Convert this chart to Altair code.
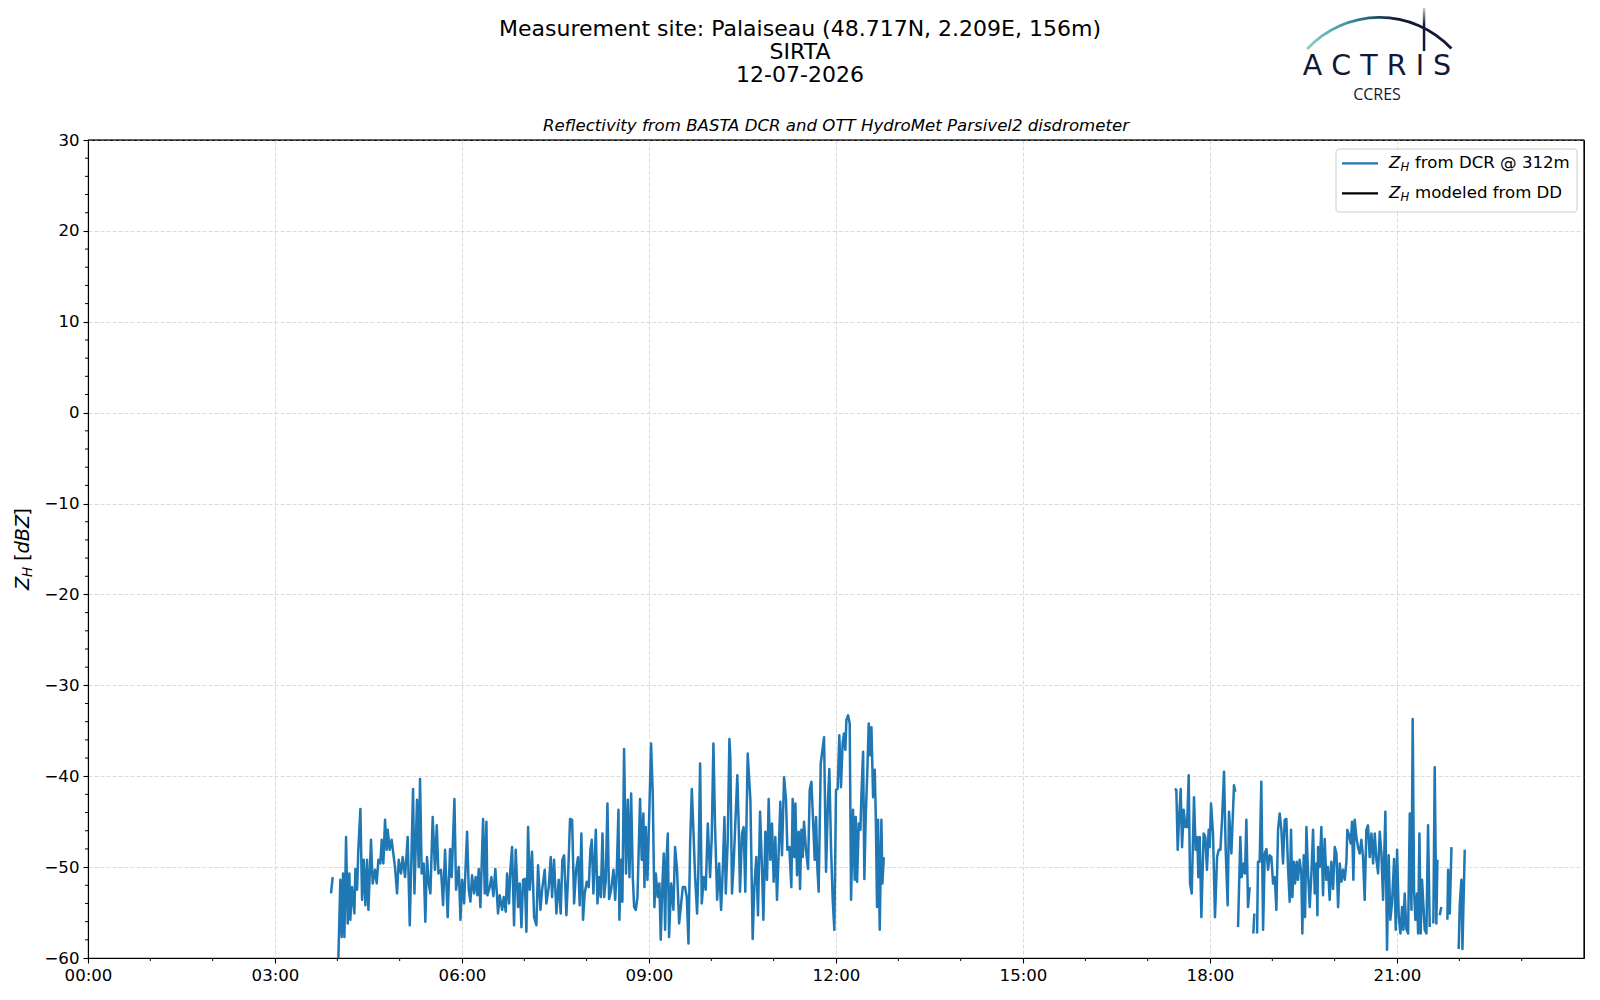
import altair as alt
import pandas as pd

# ---------------- data (minutes of day, dBZ); None marks a gap ----------------
MORNING_MIN = [
    233.9, 235.5, None,
    241.0, 242.9, 244.2, 245.5, 246.8, 248.4, 250.0, 251.6, 252.5, 254.2, 256.4, 257.4, 259.0, 260.2,
    262.2, 263.8, 265.4, 267.0, 268.6, 269.9, 272.4, 274.0, 276.3, 277.9, 279.5, 281.4, 282.7, 284.3,
    285.9, 287.5, 288.5, 290.4, 292.3, 295.5, 297.5, 299.1, 301.3, 302.9, 305.2, 307.7, 309.7, 312.9,
    314.2, 316.7, 318.3, 319.6, 321.2, 323.1, 324.7, 326.3, 328.0, 329.6, 331.8, 334.0, 335.7, 337.3,
    339.8, 341.8, 343.7, 346.2, 348.5, 350.1, 352.7, 354.3, 356.9, 358.5, 360.1, 362.0, 364.9, 366.5,
    368.1, 369.7, 371.6, 373.2, 374.8, 376.1, 377.7, 380.3, 381.9, 383.5, 384.4, 386.7, 388.3, 390.2,
    392.1, 394.7, 396.3, 398.6, 400.2, 402.1, 403.4, 405.3, 406.6, 408.2, 410.1, 411.7, 414.0, 415.6,
    417.2, 418.8, 420.4, 422.0, 423.6, 425.2, 427.4, 429.4, 431.6, 433.2, 435.5, 437.1, 439.6, 441.2,
    443.5, 445.4, 446.7, 448.6, 450.9, 453.1, 455.0, 456.6, 458.3, 460.5, 462.1, 464.0, 466.0, 467.9,
    469.8, 471.7, 473.3, 474.9, 476.5, 478.1, 480.1, 482.0, 483.6, 484.9, 486.5, 488.8, 490.4, 492.0,
    493.6, 495.2, 496.8, 498.4, 500.0, 501.6, 503.5, 505.8, 507.4, 509.0, 510.6, 511.5, 513.1, 514.4,
    516.0, 517.9, 519.6, 521.2, 522.8, 524.4, 525.7, 527.3, 528.9, 531.4, 533.0, 534.6, 535.6, 536.9,
    538.5, 540.1, 542.0, 543.6, 545.2, 546.5, 548.4, 550.0, 551.3, 552.9, 554.2, 555.5, 556.8, 558.1,
    559.3, 561.3, 563.5, 565.1, 567.0, 569.0, 570.6, 572.5, 574.7, 576.4, 578.0, 579.6, 581.2, 582.8,
    584.4, 586.3, 587.6, 589.2, 590.8, 592.7, 594.6, 596.6, 598.8, 600.4, 602.0, 603.6, 605.6, 607.5,
    609.4, 611.0, 612.6, 613.9, 615.8, 617.4, 618.3, 619.9, 621.5, 623.1, 625.0, 626.3, 627.6, 629.5,
    631.1, 632.7, 635.0, 637.6, 639.8, 641.4, 643.3, 644.9, 646.9, 648.8, 650.1, 652.0, 653.6, 655.2,
    656.8, 658.4, 660.0, 661.6, 663.2, 664.8, 666.4, 668.0, 670.0, 671.9, 673.2, 675.1, 677.0, 678.3,
    679.9, 680.9, 682.5, 684.1, 685.4, 686.7, 688.0, 689.2, 691.1, 693.1, 694.7, 696.3, 697.9, 699.5,
    700.8, 702.1, 703.3, 705.3, 708.5, 710.4, 712.3, 713.6, 715.2, 716.8, 718.4, 720.0, 721.6, 723.2,
    724.8, 726.4, 727.7, 729.0, 730.0, 731.6, 733.2, 734.5, 736.4, 738.0, 739.0, 740.3, 741.9, 743.5,
    744.5, 746.1, 747.3, 748.6, 750.2, 751.5, 753.1, 754.1, 755.7, 757.3, 758.3, 759.5, 760.5, 762.1,
    763.7, 764.7, 766.0,
]
MORNING_DBZ = [
    -52.9, -51.1, None,
    -60.0, -51.4, -57.7, -50.7, -57.7, -46.7, -56.2, -50.7, -55.8, -52.2, -55.1, -50.2, -52.5, -48.1,
    -43.6, -53.6, -49.2, -54.2, -49.2, -54.7, -47.0, -51.8, -50.3, -51.8, -49.2, -49.6, -47.0, -49.6,
    -44.8, -48.1, -45.9, -48.1, -47.0, -50.0, -52.9, -49.2, -50.7, -48.9, -51.1, -46.7, -56.4, -41.4,
    -52.9, -42.6, -50.0, -40.3, -50.7, -49.6, -56.0, -48.9, -51.8, -52.9, -44.5, -50.3, -45.4, -50.7,
    -50.3, -54.2, -48.1, -55.5, -48.0, -51.1, -42.5, -52.5, -50.0, -55.8, -51.4, -54.0, -46.1, -52.5,
    -53.8, -50.9, -52.9, -51.1, -53.1, -50.2, -54.4, -44.7, -52.9, -45.0, -53.1, -52.2, -51.1, -53.2,
    -50.2, -55.1, -53.1, -54.7, -53.3, -54.9, -50.7, -54.0, -50.2, -47.8, -56.4, -48.1, -54.4, -51.8,
    -56.6, -51.4, -51.3, -57.1, -45.6, -52.5, -48.3, -55.5, -56.4, -49.8, -54.7, -52.5, -50.3, -54.0,
    -52.2, -48.9, -53.3, -49.2, -55.1, -51.4, -55.1, -49.2, -48.7, -55.3, -51.1, -44.7, -44.8, -54.0,
    -50.3, -48.9, -54.2, -46.3, -55.8, -52.9, -51.6, -52.2, -48.1, -47.0, -52.9, -45.9, -54.0, -51.1,
    -53.3, -46.3, -53.3, -51.4, -43.0, -53.5, -52.5, -50.3, -53.6, -50.3, -43.7, -55.8, -49.2, -53.8,
    -37.0, -50.7, -42.6, -51.1, -41.9, -51.1, -54.4, -54.7, -53.3, -42.5, -49.2, -44.1, -52.2, -45.6,
    -51.4, -44.8, -36.4, -41.9, -54.4, -50.7, -53.3, -51.8, -58.0, -51.8, -48.5, -56.9, -49.2, -46.3,
    -57.7, -51.8, -54.7, -47.8, -50.3, -56.2, -54.4, -52.2, -52.2, -53.3, -58.4, -47.4, -41.4, -46.1,
    -51.1, -55.1, -50.0, -38.6, -54.0, -51.1, -52.5, -45.2, -51.1, -46.7, -36.4, -45.6, -53.6, -49.6,
    -54.7, -50.3, -44.5, -52.9, -47.0, -35.9, -37.9, -52.9, -49.6, -45.2, -39.9, -45.2, -52.7, -46.3,
    -45.6, -52.7, -37.5, -42.6, -57.9, -52.2, -48.9, -55.3, -43.9, -50.3, -55.8, -46.1, -51.4, -42.5,
    -49.2, -45.2, -51.6, -46.7, -53.6, -48.5, -42.8, -48.7, -40.1, -42.6, -48.1, -47.8, -52.2, -42.5,
    -48.9, -43.0, -50.9, -46.1, -52.4, -45.9, -48.9, -45.0, -48.1, -50.2, -41.5, -40.6, -44.8, -49.2,
    -44.5, -50.2, -52.7, -38.6, -35.7, -50.5, -42.6, -39.2, -47.8, -53.5, -56.9, -41.5, -41.4, -35.5,
    -41.2, -36.4, -35.3, -37.1, -33.8, -33.3, -34.2, -53.6, -43.7, -51.4, -44.5, -51.6, -45.2, -45.9,
    -41.9, -37.3, -51.3, -44.5, -39.3, -34.2, -37.7, -34.6, -42.3, -39.3, -44.5, -54.4, -44.8, -56.9,
    -44.8, -51.8, -48.9,
]
EVENING_MIN = [
    1046.0, 1047.6, 1048.9, 1050.2, 1051.8, 1053.1, 1054.7, 1056.3, 1057.9, 1059.5, 1060.8, 1062.4,
    1064.6, 1066.2, 1067.8, 1068.8, 1070.1, 1071.7, 1073.9, 1075.5, 1077.1, 1078.7, 1079.7, 1081.0,
    1082.9, 1084.8, 1086.8, 1088.4, 1090.0, 1091.6, 1093.5, 1095.1, 1097.0, 1098.3, 1100.6, 1103.1,
    1104.4, None,
    1107.0, 1109.2, 1110.5, 1112.4, 1113.7, 1115.0, 1116.6, 1118.2, None,
    1121.7, 1122.7, None,
    1125.3, 1126.2, 1127.8, 1129.4, 1131.1, 1132.7, 1134.3, 1135.9, 1137.5, 1139.1, 1140.7, 1142.3,
    1143.9, 1145.5, 1147.1, 1148.7, 1150.3, 1151.9, 1153.5, 1155.1, 1156.7, 1158.0, 1159.3, 1160.6,
    1161.9, 1163.5, 1164.7, 1166.3, 1167.9, 1168.9, 1170.2, 1171.5, 1172.8, 1174.4, 1176.0, 1177.6,
    1179.2, 1180.8, 1182.4, 1183.4, 1184.0, 1185.6, 1187.2, 1188.8, 1190.4, 1192.0, 1193.6, 1195.2,
    1196.8, 1198.5, 1200.1, 1201.7, 1203.3, 1204.9, 1206.5, 1208.1, 1209.7, 1211.3, 1212.2, 1213.9,
    1215.5, 1216.7, 1218.0, 1219.3, 1220.9, 1222.5, 1224.1, 1225.7, 1227.3, 1228.9, 1230.5, 1232.1,
    1233.7, 1235.4, 1237.0, 1238.6, 1240.2, 1241.8, 1243.4, 1245.0, 1246.6, 1248.8, 1250.4, 1252.0,
    1253.6, 1255.2, 1257.2, 1258.8, 1260.1, 1261.7, 1263.3, 1264.9, 1266.2, 1267.4, 1269.0, 1270.7,
    1272.3, 1273.9, 1275.1, 1276.4, 1277.7, 1279.3, 1280.3, 1281.6, 1282.8, 1284.1, 1286.7, 1288.3,
    1289.9, 1291.5, None,
    1295.0, 1296.3, 1297.9, 1298.9, None,
    1301.1, 1302.7, None,
    1308.5, 1309.2, 1310.8, 1312.4, None,
    1319.4, 1320.4, 1322.0, 1323.0, 1325.2,
]
EVENING_DBZ = [
    -41.4, -41.5, -48.1, -44.8, -41.4, -47.8, -43.7, -45.6, -45.6, -39.9, -51.8, -52.9,
    -42.3, -48.1, -46.7, -51.1, -46.7, -55.5, -46.3, -46.7, -50.3, -45.9, -47.8, -43.0,
    -46.3, -55.5, -48.9, -48.1, -48.1, -44.8, -39.5, -48.1, -54.2, -43.9, -48.5, -41.0,
    -41.7, None,
    -56.6, -46.7, -51.1, -49.6, -50.7, -44.8, -54.4, -52.2, None,
    -57.3, -55.1, None,
    -57.3, -49.4, -49.4, -40.6, -56.9, -48.5, -48.0, -50.3, -48.7, -48.9, -51.8, -51.1,
    -54.7, -45.9, -44.1, -45.9, -49.6, -44.8, -44.7, -50.0, -53.8, -45.9, -53.3, -49.4,
    -51.8, -49.4, -51.4, -49.2, -50.7, -57.3, -48.7, -55.5, -45.6, -50.7, -54.4, -50.7,
    -45.9, -52.9, -49.6, -55.3, -47.8, -50.0, -45.6, -53.1, -46.9, -51.4, -50.0, -53.6,
    -49.4, -52.4, -47.8, -48.5, -54.4, -49.6, -51.6, -50.3, -51.4, -49.4, -45.9, -46.5,
    -47.4, -45.0, -51.4, -44.8, -46.7, -47.8, -48.5, -47.0, -48.9, -53.6, -45.9, -45.4,
    -48.9, -46.3, -49.6, -46.3, -49.2, -50.7, -46.1, -48.5, -53.6, -43.9, -59.1, -48.7,
    -55.8, -54.0, -49.1, -56.9, -48.1, -55.5, -57.3, -54.4, -56.9, -52.9, -56.8, -57.3,
    -44.1, -54.7, -33.7, -52.5, -55.8, -52.9, -57.3, -46.3, -57.3, -51.4, -56.9, -57.3,
    -45.4, -56.6, None,
    -56.2, -39.0, -56.2, -49.2, None,
    -55.3, -54.4, None,
    -55.8, -50.3, -55.1, -47.8, None,
    -59.0, -54.2, -51.4, -59.0, -48.1,
]

X_MAJOR = [0, 3, 6, 9, 12, 15, 18, 21]
X_MINOR = [1, 2, 4, 5, 7, 8, 10, 11, 13, 14, 16, 17, 19, 20, 22, 23]
Y_MAJOR = [-60, -50, -40, -30, -20, -10, 0, 10, 20, 30]
Y_MINOR = [v for v in range(-58, 30, 2) if v % 10 != 0]

TITLE_LINES = ["Measurement site: Palaiseau (48.717N, 2.209E, 156m)", "SIRTA", "12-07-2026"]
SUBTITLE = "Reflectivity from BASTA DCR and OTT HydroMet Parsivel2 disdrometer"
LEGEND_REST = ["from DCR @ 312m", "modeled from DD"]
LEGEND_COLORS = ["#1f77b4", "black"]

# ---------------- build table ----------------
rows = []
piece = 0
for mins, vals in ((MORNING_MIN, MORNING_DBZ), (EVENING_MIN, EVENING_DBZ)):
    piece += 1
    for m, v in zip(mins, vals):
        if m is None:
            piece += 1
            continue
        rows.append({"h": m / 60.0, "z": v, "piece": piece})
df = pd.DataFrame(rows)

W, H = 1496, 818
FONT = "DejaVu Sans"
ONE = pd.DataFrame({"k": [0]})

xscale = alt.Scale(domain=[0, 24], nice=False, zero=False)
yscale = alt.Scale(domain=[-60, 30], nice=False, zero=False)
XAXIS = alt.Axis(values=X_MAJOR, title=None, grid=True, labelFlush=False, labelOverlap=False,
                 labelExpr="(datum.value < 10 ? '0' : '') + datum.value + ':00'")
YAXIS = alt.Axis(values=Y_MAJOR, title=None, grid=True, format="d", labelFlush=False, labelOverlap=False)

line = alt.Chart(df).mark_line(color="#1f77b4", strokeWidth=2.5, strokeJoin="round", clip=True).encode(
    x=alt.X("h:Q", scale=xscale, axis=XAXIS),
    y=alt.Y("z:Q", scale=yscale, axis=YAXIS),
    detail="piece:N",
)

xminor = alt.Chart(pd.DataFrame({"h": X_MINOR})).mark_rule(color="black", strokeWidth=1).encode(
    x=alt.X("h:Q", scale=xscale, axis=XAXIS), y=alt.value(H), y2=alt.value(H + 3))
yminor = alt.Chart(pd.DataFrame({"z": Y_MINOR})).mark_rule(color="black", strokeWidth=1).encode(
    y=alt.Y("z:Q", scale=yscale, axis=YAXIS), x=alt.value(0), x2=alt.value(-3))

# solid top and right spines drawn over the grid
top_spine = alt.Chart(ONE).mark_rule(color="black", strokeWidth=1.2).encode(
    x=alt.value(0), x2=alt.value(W), y=alt.value(0))
right_spine = alt.Chart(ONE).mark_rule(color="black", strokeWidth=1.1).encode(
    x=alt.value(W), y=alt.value(0), y2=alt.value(H))


def txt(text, x, y, size, style="normal", align="center", angle=0, color="black", font=FONT, weight="normal"):
    return alt.Chart(ONE).mark_text(
        text=text, fontSize=size, font=font, fontStyle=style, align=align, baseline="middle",
        angle=angle, color=color, fontWeight=weight).encode(x=alt.value(x), y=alt.value(y))


layers = [line, xminor, yminor, top_spine, right_spine]

# titles
for t, yy in zip(TITLE_LINES, [-111.4, -88.0, -65.5]):
    layers.append(txt(t, 712, yy, 22))
layers.append(txt(SUBTITLE, W / 2, -14.5, 16.6, style="italic"))

# y label  Z_H [dBZ]
layers += [
    txt("Z", -65.5, 450, 19.4, style="italic", align="left", angle=270),
    txt("H", -60.5, 437, 13.5, style="italic", align="left", angle=270),
    txt("[", -65.5, 421, 19.4, align="left", angle=270),
    txt("dBZ", -65.5, 413.6, 19.4, style="italic", align="left", angle=270),
    txt("]", -65.5, 375.8, 19.4, align="left", angle=270),
]

# legend
layers.append(alt.Chart(ONE).mark_rect(
    fill="white", fillOpacity=0.8, stroke="#cccccc", strokeWidth=1, cornerRadius=3).encode(
    x=alt.value(1248), x2=alt.value(1489), y=alt.value(9), y2=alt.value(72)))
for i, (rest, col) in enumerate(zip(LEGEND_REST, LEGEND_COLORS)):
    yy = 23.4 + 30 * i
    layers.append(alt.Chart(ONE).mark_rule(color=col, strokeWidth=2.2).encode(
        x=alt.value(1254), x2=alt.value(1290), y=alt.value(yy)))
    layers.append(txt("Z", 1301, yy, 16.6, style="italic", align="left"))
    layers.append(txt("H", 1312.4, yy + 4.5, 11.6, style="italic", align="left"))
    layers.append(txt(rest, 1327, yy, 16.6, align="left"))

# logo
NAVY = "#141838"
layers.append(alt.Chart(ONE).mark_arc(
    radius=100, radius2=97.2, theta=5.46, theta2=7.10,
    fill=alt.Gradient(gradient="linear", x1=0, x2=1, y1=0, y2=0, stops=[
        alt.GradientStop(color="#8dd3cf", offset=0),
        alt.GradientStop(color="#2a8290", offset=0.35),
        alt.GradientStop(color=NAVY, offset=0.62),
        alt.GradientStop(color=NAVY, offset=1)])).encode(
    x=alt.value(1291.5), y=alt.value(-24)))
layers.append(alt.Chart(ONE).mark_rect(
    fill=alt.Gradient(gradient="linear", x1=0, x2=0, y1=0, y2=1, stops=[
        alt.GradientStop(color="#ffffff", offset=0),
        alt.GradientStop(color=NAVY, offset=0.45),
        alt.GradientStop(color=NAVY, offset=1)])).encode(
    x=alt.value(1334.8), x2=alt.value(1337.3), y=alt.value(-137), y2=alt.value(-89)))
layers.append(txt("A C T R I S", 1289, -74, 28.5, color=NAVY))
layers.append(txt("CCRES", 1289, -45, 16, color=NAVY, font="Open Sans"))

chart = alt.layer(*layers).properties(
    width=W, height=H,
    autosize=alt.AutoSizeParams(type="none"),
    padding={"left": 80, "top": 132, "right": 8, "bottom": 40},
    background="white",
).configure_view(
    stroke="black", strokeWidth=1.1
).configure_axis(
    domainColor="black", domainWidth=1.1, tickColor="black", tickWidth=1.1, tickSize=5,
    labelFont=FONT, labelFontSize=16.6, labelColor="black", labelPadding=4,
    gridColor="#d0d0d0", gridDash=[4, 2], gridWidth=0.8,
)

chart.save("out.html", embed_options={"renderer": "svg", "actions": False})
